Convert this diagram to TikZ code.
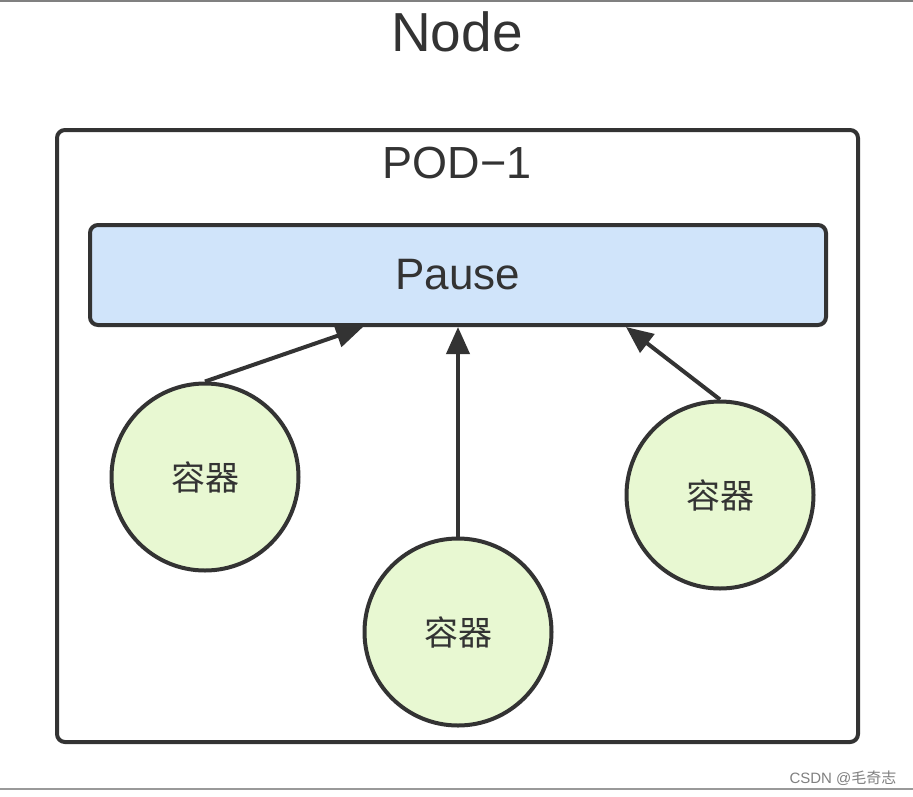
\documentclass[tikz,border=0pt]{standalone}
\usepackage{fontspec}
\setmainfont{Liberation Sans}
\newfontfamily\cjk{Noto Sans CJK SC}
\usetikzlibrary{arrows.meta}
\definecolor{linec}{RGB}{51,51,51}
\definecolor{pausefill}{RGB}{208,228,250}
\definecolor{ctrfill}{RGB}{232,248,210}
\tikzset{
  box/.style={draw=linec, line width=4pt, rounded corners=8pt},
  ctr/.style={circle, draw=linec, line width=4pt, fill=ctrfill, minimum size=187pt, inner sep=0pt, font=\cjk\fontsize{34pt}{34pt}\selectfont, text=linec},
  conn/.style={draw=linec, line width=4pt, -{Triangle[length=27pt,width=23pt]}},
}
\begin{document}
\begin{tikzpicture}[x=1pt,y=-1pt]
\useasboundingbox (0,0) rectangle (913,796);
\fill[white] (0,0) rectangle (913,796);
\draw[gray, line width=2pt] (0,1) -- (913,1);
\draw[gray!80, line width=2pt] (0,789) -- (913,789);
\node[font=\fontsize{55pt}{55pt}\selectfont, text=linec] (title) at (457,32) {Node};
\draw[box] (57,130) rectangle (858,742);
\node[font=\fontsize{45pt}{45pt}\selectfont, text=linec] (pod) at (457,163) {POD−1};
\node[box, fill=pausefill, minimum width=736pt, minimum height=100pt, inner sep=0pt, font=\fontsize{44pt}{44pt}\selectfont, text=linec] (pause) at (458,275) {Pause};
\node[ctr] (c1) at (205,477) {容器};
\node[ctr] (c2) at (458,632) {容器};
\node[ctr] (c3) at (720,495) {容器};
\coordinate (p1) at (363,327);
\coordinate (p3) at (626,327);
\draw[conn] (c1.north) -- (p1);
\draw[conn] (c2.north) -- (c2.north |- pause.south);
\draw[conn] (c3.north) -- (p3);
\node[anchor=east, text=gray, font=\fontsize{15pt}{15pt}\selectfont] (wm) at (900,778) {CSDN @{\cjk 毛奇志}};
\end{tikzpicture}
\end{document}
